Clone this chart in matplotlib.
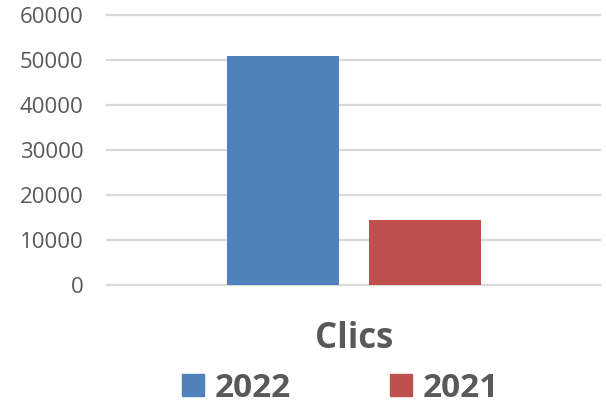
import matplotlib
matplotlib.use("Agg")
import matplotlib.pyplot as plt
from matplotlib.lines import Line2D

category = "Clics"
series = ["2022", "2021"]
values = [50800, 14400]
colors = ["#4F81BD", "#C0504D"]
yticks = [0, 10000, 20000, 30000, 40000, 50000, 60000]

plt.rcParams['font.family'] = ['Open Sans', 'DejaVu Sans']
txt = "#595959"

fig = plt.figure(figsize=(6.06, 4.11), dpi=100)
ax = fig.add_axes([107/606, 1-285/411, (600-107)/606, (285-15)/411])

w = 0.228
offs = [-0.143, 0.145]
for s, v, c, o in zip(series, values, colors, offs):
    ax.bar(o, v, width=w, color=c, zorder=3)

ax.set_xlim(-0.5, 0.5)
ax.set_ylim(0, 60000)
ax.set_yticks(yticks)
ax.set_yticklabels([str(t) for t in yticks], fontsize=16, color=txt)
ax.tick_params(axis='y', length=0, pad=17)
ax.set_xticks([])
for sp in ax.spines.values():
    sp.set_visible(False)
ax.yaxis.grid(True, color="#D9D9D9", linewidth=1.6, zorder=0)
ax.set_axisbelow(True)
for line in ax.get_ygridlines():
    line.set_clip_on(False)

fig.text(354/606, 1-339/411, category, ha='center', va='center',
         fontsize=25, fontweight='bold', color=txt)

handles = [Line2D([], [], marker='s', linestyle='none', markersize=16.5,
                  markerfacecolor=c, markeredgecolor=c) for c in colors]
leg = fig.legend(handles, series, loc='center', ncol=2,
                 bbox_to_anchor=(340/606, 1-388/411), frameon=False,
                 prop={'size': 24, 'weight': 'bold'}, handlelength=0.7,
                 handletextpad=0.3, columnspacing=2.95, borderpad=0)
for t in leg.get_texts():
    t.set_color(txt)

fig.savefig("out.png", dpi=100)
